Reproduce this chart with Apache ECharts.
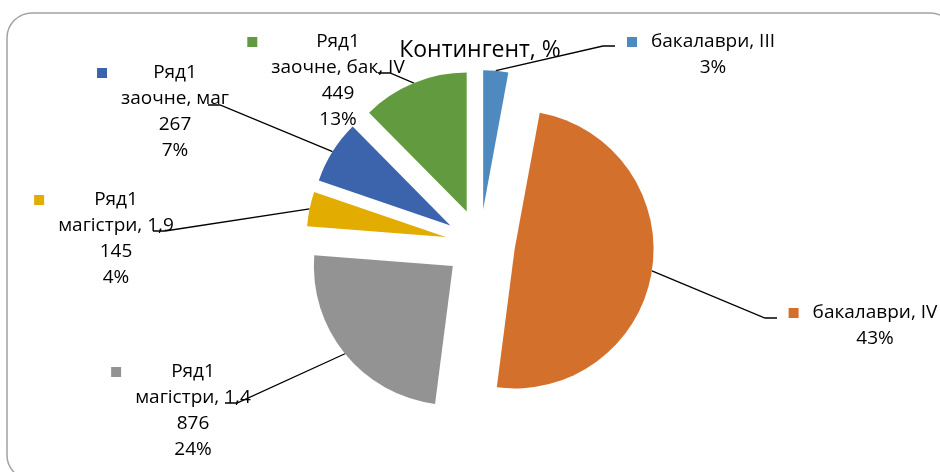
<!DOCTYPE html>
<html>
<head>
<meta charset="utf-8">
<title>Контингент, %</title>
<script src="https://cdn.jsdelivr.net/npm/echarts@6/dist/echarts.min.js"></script>
<style>
  html, body { margin: 0; padding: 0; background: #fff; }
  #chart { width: 940px; height: 472px; }
</style>
</head>
<body>
<div id="chart"></div>
<script>
// values
const categories = ['бакалаври, III', 'бакалаври, IV', 'магістри, 1,4', 'магістри, 1,9', 'заочне, маг', 'заочне, бак, IV'];
const values = [105, 1780, 876, 145, 267, 449];
const percentLabels = ['3%', '43%', '24%', '4%', '7%', '13%'];
const seriesName = 'Ряд1';
const showSeriesName = [false, false, true, true, true, true];

const colors = ['#4e8abf', '#d3702c', '#939393', '#e2ac00', '#3c64ad', '#629a3f'];

// where the labels sit (text centre x, first line centre y) and where their leader lines bend
const labelPos = [[713, 42], [875, 313], [193, 372], [116, 200], [175, 73], [338, 42]];
const leaderKnee = [[603, 46], [765, 318], [237, 403], [165, 231], [220, 105], [390, 73]];
const leaderDir = [1, 1, -1, -1, -1, -1];

const FONT = '"Open Sans", "Noto Sans", sans-serif';
const FS = 19;
const LH = 26;

function lineTexts (i) {
  if (showSeriesName[i]) return [seriesName, categories[i], String(values[i]), percentLabels[i]];
  return [categories[i], percentLabels[i]];
}

// widest line of every label, so the colour key can sit at the block's left edge
const ctx = document.createElement('canvas').getContext('2d');
ctx.font = FS + 'px "Open Sans"';
const blockW = categories.map(function (c, i) {
  return Math.max.apply(null, lineTexts(i).map(function (t) { return ctx.measureText(t).width; }));
});

const rich = {
  e: { width: 10, height: 10, align: 'right', lineHeight: LH },
  b: { align: 'center', fontSize: FS, fontFamily: FONT, color: '#000', lineHeight: LH }
};
colors.forEach(function (c, i) {
  rich['sq' + i] = { width: 10, height: 10, backgroundColor: c, align: 'left', lineHeight: LH };
  rich['a' + i] = { width: blockW[i] + 28, align: 'center', fontSize: FS, fontFamily: FONT, color: '#000', lineHeight: LH };
});

const chart = echarts.init(document.getElementById('chart'));
chart.setOption({
  animation: false,
  backgroundColor: '#fff',
  color: colors,
  graphic: [
    {
      type: 'rect',
      shape: { x: 7, y: 13, width: 948, height: 467, r: 25 },
      style: { fill: 'none', stroke: '#a3a3a3', lineWidth: 1.5 },
      silent: true,
      z: -10
    },
    {
      type: 'text',
      x: 480,
      y: 50,
      style: {
        text: 'Контингент, %',
        align: 'center',
        verticalAlign: 'middle',
        font: '23px ' + FONT,
        fill: '#000'
      },
      silent: true
    }
  ],
  series: [
    {
      // the exploded slices
      name: seriesName,
      type: 'pie',
      center: [480, 244],
      radius: 139,
      startAngle: 90,
      clockwise: true,
      silent: true,
      selectedMode: 'multiple',
      selectedOffset: 35,
      itemStyle: { borderWidth: 0 },
      select: { itemStyle: { borderWidth: 0 } },
      label: { show: false },
      labelLine: { show: false },
      data: categories.map(function (c, i) {
        return { name: c, value: values[i], selected: true };
      })
    },
    {
      // invisible ring carrying the data labels and leader lines
      name: seriesName,
      type: 'pie',
      center: [480, 244],
      radius: 174,
      startAngle: 90,
      clockwise: true,
      silent: true,
      avoidLabelOverlap: false,
      itemStyle: { color: 'rgba(0,0,0,0)', borderWidth: 0 },
      label: {
        show: true,
        position: 'outside',
        fontFamily: FONT,
        fontSize: FS,
        lineHeight: LH,
        color: '#000',
        rich: rich,
        formatter: function (p) {
          const i = p.dataIndex;
          const ls = lineTexts(i);
          let s = '{sq' + i + '|}{a' + i + '|' + ls[0] + '}{e|}';
          for (let k = 1; k < ls.length; k++) s += '\n{b|' + ls[k] + '}';
          return s;
        }
      },
      labelLine: {
        show: true,
        length: 10,
        length2: 10,
        lineStyle: { color: '#000', width: 1.3 }
      },
      labelLayout: function (p) {
        const i = p.dataIndex;
        const knee = leaderKnee[i];
        const start = p.labelLinePoints ? p.labelLinePoints[0] : knee;
        return {
          x: labelPos[i][0],
          y: labelPos[i][1] - LH / 2,
          align: 'center',
          verticalAlign: 'top',
          labelLinePoints: [start, knee, [knee[0] + leaderDir[i] * 12, knee[1]]]
        };
      },
      data: categories.map(function (c, i) {
        return { name: c, value: values[i] };
      })
    }
  ]
});
</script>
</body>
</html>
